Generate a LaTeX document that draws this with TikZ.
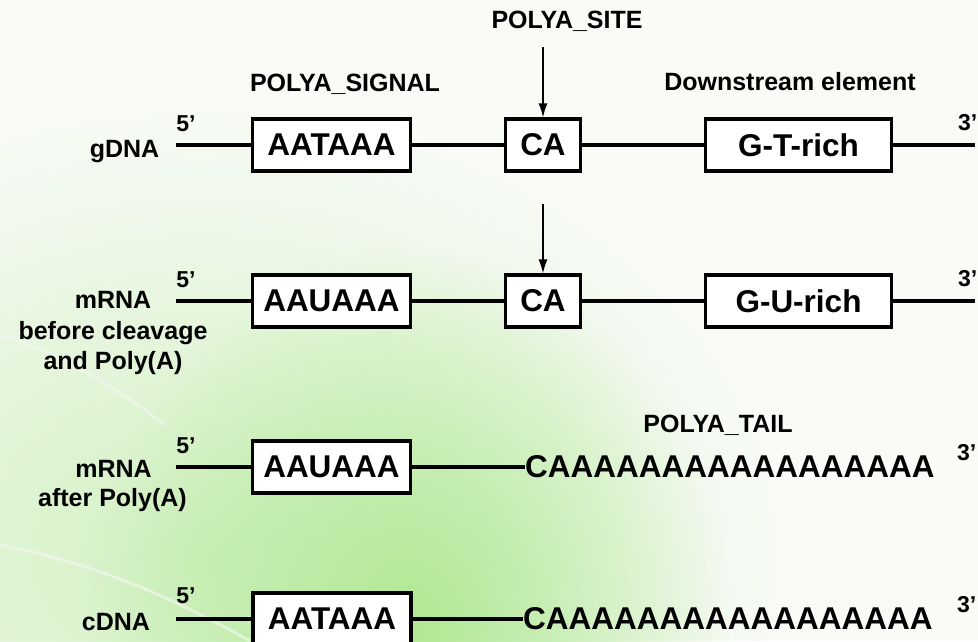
\documentclass[tikz,border=0pt]{standalone}
\usepackage{fontspec}
\setmainfont{Liberation Sans}
\usetikzlibrary{arrows.meta,fadings}

\definecolor{wash}{HTML}{F8FBF6}
\definecolor{palegreen}{HTML}{D2F1C2}
\definecolor{leafgreen}{HTML}{B0E894}
\definecolor{swoosh}{HTML}{F4F7F4}

\tikzfading[name=softblob, inner color=transparent!0, outer color=transparent!100]

\tikzset{
  strand/.style={line width=3.2pt, black},
  seqbox/.style={draw=black, line width=3.2pt, fill=white, inner sep=0pt,
    minimum height=52pt, font=\fontsize{31.5}{36}\selectfont\bfseries},
  lbl/.style={font=\fontsize{25}{30}\selectfont\bfseries, inner sep=0pt, anchor=base},
  primelbl/.style={font=\fontsize{23}{26}\selectfont\bfseries, inner sep=0pt, anchor=base},
  taillbl/.style={font=\fontsize{31.5}{36}\selectfont\bfseries, inner sep=0pt, anchor=west},
  sitearrow/.style={line width=1.6pt, -{Latex[length=14pt,width=9pt]}},
}

\begin{document}
\begin{tikzpicture}[x=1pt, y=-1pt]
\useasboundingbox (0,0) rectangle (978,641);
\clip (0,0) rectangle (978,641);

% soft green background
\fill[wash] (0,0) rectangle (978,641);
\fill[palegreen, path fading=softblob] (-380,110) rectangle (780,1000);
\fill[leafgreen, path fading=softblob] (90,250) rectangle (730,1000);
\draw[swoosh, line width=3pt, opacity=.6] (0,335) .. controls (50,350) and (100,375) .. (165,425);
\draw[swoosh, line width=3pt, opacity=.6] (0,545) .. controls (80,560) and (160,590) .. (250,641);

% headings
\node[lbl] (siteLbl) at (567,28) {POLYA\_SITE};
\node[lbl] (signalLbl) at (345,91) {POLYA\_SIGNAL};
\node[lbl] (downLbl) at (790,90) {Downstream element};
\node[lbl] (tailLbl) at (718,432) {POLYA\_TAIL};

% row 1: genomic DNA
\node[lbl] (gdna) at (124.5,157) {gDNA};
\node[primelbl] (g5) at (186,131) {5’};
\node[primelbl, anchor=base west] (g3) at (958,130) {3’};
\coordinate (gStart) at (176,145);
\coordinate (gEnd) at (975,145);
\node[seqbox, minimum width=158pt] (gSig) at (331.5,145) {AATAAA};
\node[seqbox, minimum width=75pt] (gCA) at (543,145) {CA};
\node[seqbox, minimum width=186pt] (gDown) at (798.5,145) {G-T-rich};
\draw[strand] (gStart) -- (gSig.west);
\draw[strand] (gSig.east) -- (gCA.west);
\draw[strand] (gCA.east) -- (gDown.west);
\draw[strand] (gDown.east) -- (gEnd);
\coordinate (siteTop) at (543,47);
\draw[sitearrow] (siteTop) -- (gCA.north);

% row 2: pre-mRNA
\node[lbl] (pre1) at (113,308) {mRNA};
\node[lbl] (pre2) at (113,339) {before cleavage};
\node[lbl] (pre3) at (113,369) {and Poly(A)};
\node[primelbl] (p5) at (186,287) {5’};
\node[primelbl, anchor=base west] (p3) at (958,286) {3’};
\coordinate (pStart) at (176,301);
\coordinate (pEnd) at (975,301);
\node[seqbox, minimum width=158pt] (pSig) at (331.5,301) {AAUAAA};
\node[seqbox, minimum width=75pt] (pCA) at (543,301) {CA};
\node[seqbox, minimum width=186pt] (pDown) at (798.5,301) {G-U-rich};
\draw[strand] (pStart) -- (pSig.west);
\draw[strand] (pSig.east) -- (pCA.west);
\draw[strand] (pCA.east) -- (pDown.west);
\draw[strand] (pDown.east) -- (pEnd);
\coordinate (cutTop) at (543,204);
\draw[sitearrow] (cutTop) -- (pCA.north);

% row 3: polyadenylated mRNA
\node[lbl] (post1) at (113.5,477) {mRNA};
\node[lbl] (post2) at (112.5,506) {after Poly(A)};
\node[primelbl] (m5) at (186,453) {5’};
\node[primelbl, anchor=base west] (m3) at (957,460) {3’};
\coordinate (mStart) at (176,467);
\node[seqbox, minimum width=158pt] (mSig) at (331.5,467) {AAUAAA};
\node[taillbl] (mTail) at (525,467) {CAAAAAAAAAAAAAAAAA};
\draw[strand] (mStart) -- (mSig.west);
\draw[strand] (mSig.east) -- (mTail.west);

% row 4: cDNA
\node[lbl] (cdna) at (116,630) {cDNA};
\node[primelbl] (c5) at (186,603) {5’};
\node[primelbl, anchor=base west] (c3) at (957,612) {3’};
\coordinate (cStart) at (176,619);
\node[seqbox, minimum width=158pt] (cSig) at (332,619) {AATAAA};
\node[taillbl] (cTail) at (523,619) {CAAAAAAAAAAAAAAAAA};
\draw[strand] (cStart) -- (cSig.west);
\draw[strand] (cSig.east) -- (cTail.west);
\end{tikzpicture}
\end{document}
